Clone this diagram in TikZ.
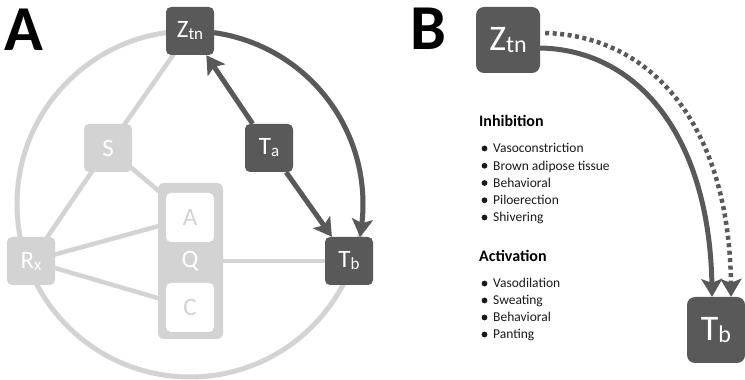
\documentclass[tikz,border=0pt]{standalone}
\usepackage{fontspec}
\setmainfont{Carlito}
\usetikzlibrary{arrows.meta,bending,backgrounds}
\definecolor{dark}{HTML}{595959}
\definecolor{light}{HTML}{D3D3D3}
\newcommand\lowsub[2]{{\fontsize{#1}{#1}\selectfont\raisebox{-2pt}{#2}}}
\begin{document}
\begin{tikzpicture}[x=1pt,y=1pt,
  box/.style={rounded corners=5pt, minimum width=48pt, minimum height=48pt,
    inner sep=0pt, text=white, font=\fontsize{25}{25}\selectfont},
  darkbox/.style={box, fill=dark},
  lightbox/.style={box, fill=light},
  whitebox/.style={box, fill=white, text=light},
  bigbox/.style={darkbox, rounded corners=8pt, minimum height=66pt,
    font=\fontsize{36}{36}\selectfont},
  link/.style={draw=light, line width=4.5pt},
  flow/.style={draw=dark, line width=5pt,
    -{Stealth[length=18pt,width=21pt,inset=4pt,bend]}},
  dotflow/.style={draw=dark, line width=4.5pt, dash pattern=on 4pt off 3.5pt,
    -{Stealth[length=18pt,width=21pt,inset=4pt,bend]}},
  panel/.style={font=\fontsize{64}{64}\selectfont\bfseries, anchor=base west, inner sep=0pt},
  heading/.style={font=\fontsize{16}{16}\selectfont\bfseries, anchor=base west, inner sep=0pt},
  item/.style={font=\fontsize{13.5}{13.5}\selectfont, anchor=base west, inner sep=0pt, text=black!90},
  dot/.style={fill=black!90}
]
\useasboundingbox (0,0) rectangle (745,380);

% ---------- panel A ----------
\node[panel] (labA) at (4,329) {A};

\node[darkbox] (zt) at (190,349) {Z\lowsub{17}{tn}};
\node[darkbox] (ta) at (269,232) {T\lowsub{17}{a}};
\node[darkbox] (tb) at (349,119) {T\lowsub{17}{b}};
\node[lightbox] (s) at (108,232) {S};
\node[lightbox] (rx) at (31,119) {R\lowsub{17}{x}};
\node[fill=light, rounded corners=6pt, minimum width=65pt, minimum height=156pt,
  inner sep=0pt] (q) at (190.5,119) {};
\node[text=white, font=\fontsize{25}{25}\selectfont, inner sep=0pt] (qlab) at (190,119) {Q};
\node[whitebox, minimum height=49pt] (a) at (190,162.5) {A};
\node[whitebox, minimum height=49pt] (c) at (190,72.5) {C};

\begin{scope}[on background layer]
  \coordinate (ctr) at (190,176);
  \draw[light, line width=5pt] (ctr) circle[radius=173];
  \draw[link] (zt.center) -- (s.center);
  \draw[link] (s.center) -- (rx.center);
  \draw[link] (s.center) -- (a.center);
  \draw[link] (rx.center) -- (a.center);
  \draw[link] (rx.center) -- (c.center);
  \draw[link] (q.center) -- (tb.center);
\end{scope}

\draw[flow] (ta) -- (zt);
\draw[flow] (ta) -- (tb);
\draw[flow] ([shift={(82:173)}]ctr) arc[start angle=82, end angle=-11, radius=173];

% ---------- panel B ----------
\node[panel] (labB) at (410,330) {B};

\node[bigbox, minimum width=64pt] (zb) at (508,340) {Z\lowsub{24}{tn}};
\node[bigbox, minimum width=58pt] (tbb) at (716,50) {T\lowsub{24}{b}};

\draw[flow] ([yshift=-8pt]zb.east) .. controls (640,330) and (713,240) .. ([xshift=-4pt]tbb.north);
\draw[dotflow] ([xshift=5pt,yshift=7pt]zb.east) .. controls (655,344) and (733,250) .. ([xshift=15pt]tbb.north);

\node[heading] (inh) at (479,253) {Inhibition};
\foreach \t [count=\i] in {Vasoconstriction, Brown adipose tissue, Behavioral, Piloerection, Shivering}{
  \node[item] (inh\i) at (493,{227-(\i-1)*17.25}) {\t};
  \fill[dot] (484.5,{231.5-(\i-1)*17.25}) circle[radius=2.9];
}

\node[heading] (act) at (479,118) {Activation};
\foreach \t [count=\i] in {Vasodilation, Sweating, Behavioral, Panting}{
  \node[item] (act\i) at (493,{92-(\i-1)*17}) {\t};
  \fill[dot] (484.5,{96.5-(\i-1)*17}) circle[radius=2.9];
}
\end{tikzpicture}
\end{document}
